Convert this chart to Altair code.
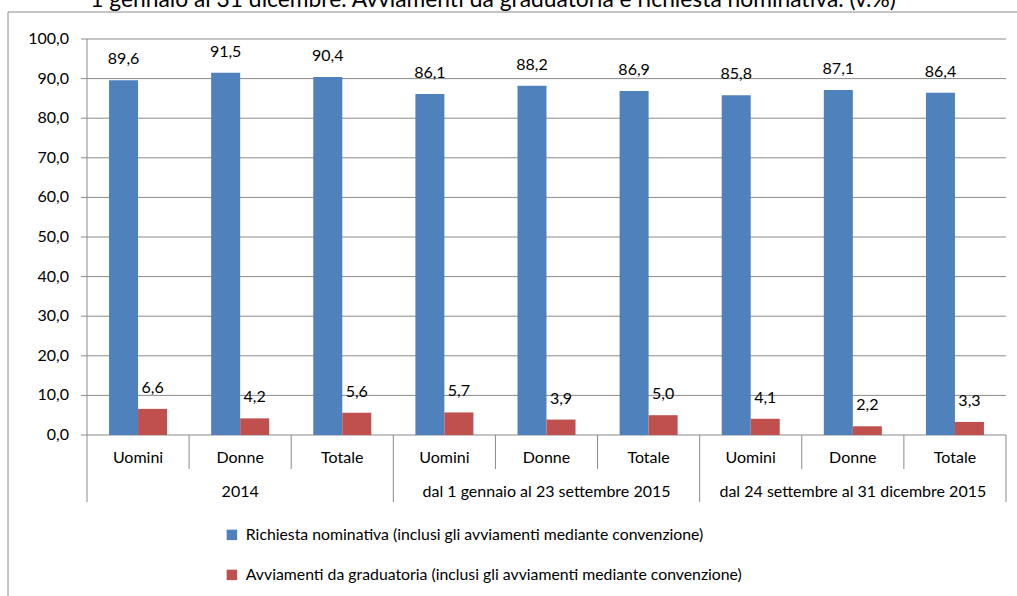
import altair as alt
import pandas as pd

# --- data -------------------------------------------------------------
periodi = [
    "2014",
    "dal 1 gennaio al 23 settembre 2015",
    "dal 24 settembre al 31 dicembre 2015",
]
sesso = ["Uomini", "Donne", "Totale"]
serie = [
    "Richiesta nominativa (inclusi gli avviamenti mediante convenzione)",
    "Avviamenti da graduatoria (inclusi gli avviamenti mediante convenzione)",
]
richiesta = [89.6, 91.5, 90.4, 86.1, 88.2, 86.9, 85.8, 87.1, 86.4]
graduatoria = [6.6, 4.2, 5.6, 5.7, 3.9, 5.0, 4.1, 2.2, 3.3]
titolo = "1 gennaio al 31 dicembre. Avviamenti da graduatoria e richiesta nominativa. (v.%)"
colori = ["#4F81BD", "#C0504D"]
tick_y = list(range(0, 101, 10))

FONT = "Lato"
GRID = "#8a8a8a"
W, H = 919, 396

# --- tables -------------------------------------------------------------
cats = [f"{p}|{s}" for p in periodi for s in sesso]
rows = []
for i, c in enumerate(cats):
    for nome, valori in zip(serie, [richiesta, graduatoria]):
        v = valori[i]
        rows.append(dict(cat=c, serie=nome, valore=v,
                         etichetta=f"{v:.1f}".replace(".", ",")))
df = pd.DataFrame(rows)

ytick_df = pd.DataFrame({"valore": tick_y,
                         "testo": [f"{v:.1f}".replace(".", ",") for v in tick_y]})
cat_df = pd.DataFrame({"cat": cats, "sesso": [c.split("|")[1] for c in cats]})
grp_df = pd.DataFrame({"cat": cats[1::3], "periodo": periodi})
inner_df = pd.DataFrame({"cat": [c for i, c in enumerate(cats) if i % 3 != 0]})
group_left_df = pd.DataFrame({"cat": cats[0::3]})
end_df = pd.DataFrame({"cat": [cats[-1]]})
title_df = pd.DataFrame({"t": [titolo]})

xscale = alt.Scale(domain=cats, paddingInner=0, paddingOuter=0)
yscale = alt.Scale(domain=[0, 100], nice=False)


def xcat(**kw):
    return alt.X("cat:N", sort=cats, scale=xscale, axis=None, **kw)


def yval():
    return alt.Y("valore:Q", scale=yscale, axis=None)


xoff = alt.XOffset("serie:N", sort=serie,
                   scale=alt.Scale(domain=serie, paddingInner=0, paddingOuter=0.76))

# value axis: gridlines, outward ticks, labels and axis line
grid = alt.Chart(ytick_df).mark_rule(color=GRID, strokeWidth=1).encode(
    y=yval(), x=alt.value(-6), x2=alt.value(W))
ylabels = alt.Chart(ytick_df).mark_text(
    align="right", baseline="middle", fontSize=16, font=FONT, color="black"
).encode(y=yval(), x=alt.value(-18), text="testo:N")
yline = alt.Chart(title_df).mark_rule(color=GRID).encode(
    x=alt.value(0), y=alt.value(0), y2=alt.value(H))

bars = alt.Chart(df).mark_bar().encode(
    x=xcat(),
    xOffset=xoff,
    y=yval(),
    color=alt.Color(
        "serie:N", sort=serie,
        scale=alt.Scale(domain=serie, range=colori),
        legend=alt.Legend(
            orient="none", legendX=137, legendY=488, direction="vertical",
            title=None, symbolType="square", symbolSize=110,
            symbolStrokeWidth=0, labelFontSize=15.8, labelFont=FONT,
            labelColor="black", rowPadding=23, labelOffset=6, labelLimit=0,
        ),
    ),
)

labels = alt.Chart(df).mark_text(
    dy=-21, baseline="middle", fontSize=16, font=FONT, color="black"
).encode(x=xcat(), xOffset=xoff, y=yval(), text="etichetta:N")

# category axis: ticks, labels and period separators
inner_ticks = alt.Chart(inner_df).mark_rule(color=GRID).encode(
    x=xcat(bandPosition=0), y=alt.value(H), y2=alt.value(H + 34))
group_ticks = alt.Chart(group_left_df).mark_rule(color=GRID).encode(
    x=xcat(bandPosition=0), y=alt.value(H), y2=alt.value(H + 67))
end_tick = alt.Chart(end_df).mark_rule(color=GRID).encode(
    x=xcat(bandPosition=1), y=alt.value(H), y2=alt.value(H + 67))

cat_labels = alt.Chart(cat_df).mark_text(
    fontSize=16, font=FONT, color="black", baseline="middle"
).encode(x=xcat(), y=alt.value(H + 23), text="sesso:N")

grp_labels = alt.Chart(grp_df).mark_text(
    fontSize=16, font=FONT, color="black", baseline="middle"
).encode(x=xcat(), y=alt.value(H + 57), text="periodo:N")

frame = alt.Chart(title_df).mark_rect(
    fill="transparent", stroke=GRID, strokeWidth=1
).encode(x=alt.value(-79), x2=alt.value(W + 40),
         y=alt.value(-27), y2=alt.value(H + 220))

title = alt.Chart(title_df).mark_text(
    fontSize=22.8, font=FONT, color="black", baseline="alphabetic", align="center"
).encode(x=alt.value(406), y=alt.value(-32), text="t:N")

chart = alt.layer(
    frame, grid, yline, ylabels, bars, labels, inner_ticks, group_ticks,
    end_tick, cat_labels, grp_labels, title,
).properties(
    width=W, height=H,
    autosize=alt.AutoSizeParams(type="none"),
    padding={"left": 87, "top": 39, "right": 11, "bottom": 161},
).configure_view(strokeWidth=0)

chart.save("out.html", embed_options={"renderer": "svg", "actions": False})
